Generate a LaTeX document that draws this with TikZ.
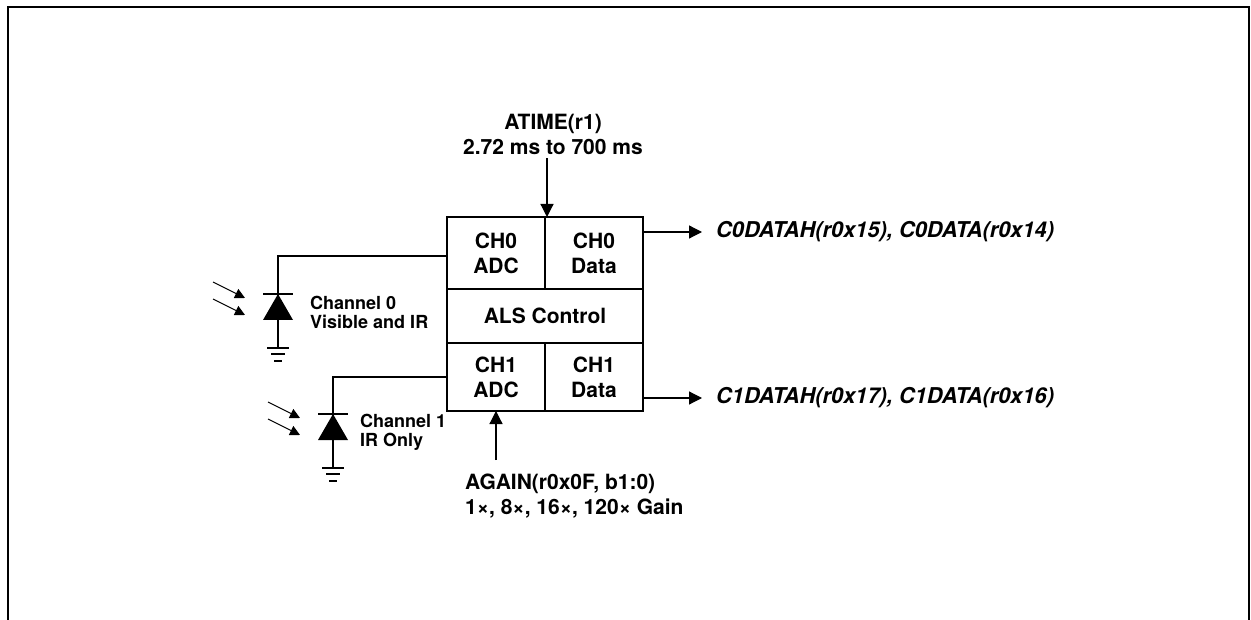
\documentclass[tikz,border=0pt]{standalone}
\usepackage{fontspec}
\setmainfont{TeX Gyre Heros}
\usetikzlibrary{arrows.meta, positioning}

\begin{document}
\begin{tikzpicture}[x=1pt, y=-1pt]
\tikzstyle{cell}=[rectangle, draw=black, line width=2pt, outer sep=0pt, inner sep=0pt, align=center, minimum width=98pt, minimum height=72pt, font=\bfseries\fontsize{21}{25}\selectfont]
\tikzstyle{lbl}=[inner sep=0pt, font=\bfseries\fontsize{21}{25}\selectfont]
\tikzstyle{chan}=[inner sep=0pt, align=left, font=\bfseries\fontsize{18}{19}\selectfont]
\tikzstyle{outlbl}=[inner sep=0pt, font=\bfseries\itshape\fontsize{21.8}{25}\selectfont]
\tikzstyle{connect}=[-{Triangle[length=13pt, width=13pt]}, line width=1.2pt]
\tikzstyle{wire}=[line width=1.2pt]
\tikzstyle{ray}=[-{Triangle[length=10pt, width=10pt]}, line width=1pt]
    \useasboundingbox (0,0) rectangle (1251,620);
    \draw[line width=2.5pt] (8,620) -- (8,7) -- (1249,7) -- (1249,620);
    % ALS block
    \node[cell] (ch0adc) at (496,253) {CH0\\ADC};
    \node[cell] (ch0data) [right=0pt of ch0adc] {CH0\\Data};
    \node[cell, minimum width=196pt, minimum height=54pt] (als) [below=0pt of ch0adc.south east] {ALS Control};
    \node[cell, minimum height=68pt, anchor=north west] (ch1adc) at (als.south west) {CH1\\ADC};
    \node[cell, minimum height=68pt] (ch1data) [right=0pt of ch1adc] {CH1\\Data};
    % photodiodes
    \coordinate (d0) at (278,294);
    \coordinate (d1) at (333,414);
    \foreach \d in {d0, d1} {
        \begin{scope}[shift={(\d)}]
            \fill (0,0) -- (-15,26) -- (15,26) -- cycle;
            \draw[wire] (-15,0) -- (15,0) (0,0) -- (0,54);
            \draw[wire] (-11,54) -- (11,54) (-7,60) -- (7,60) (-4,67) -- (4,67);
            \draw[ray] (-65,-12) -- (-33,4);
            \draw[ray] (-65,5) -- (-33,21);
        \end{scope}
    }
    \draw[wire] ([yshift=-3pt]ch0adc.west) -| (d0);
    \draw[wire] (ch1adc.west) -| (d1);
    \node[chan, anchor=west] (c0txt) at (310,312) {Channel 0\\Visible and IR};
    \node[chan, anchor=west] (c1txt) at (360,432) {Channel 1\\IR Only};
    % timing and gain
    \node[lbl, align=center] (atime) at (553,134) {ATIME(r1)\\2.72 ms to 700 ms};
    \draw[connect, shorten <=4pt] ([xshift=2pt]atime.south -| ch0adc.north east) -- ([xshift=2pt]ch0adc.north east);
    \node[lbl, align=left, anchor=north west] (again) at (465,474) {AGAIN(r0x0F, b1:0)\\1×, 8×, 16×, 120× Gain};
    \draw[connect] ([yshift=14pt]again.north -| ch1adc.south) -- (ch1adc.south);
    % data registers
    \node[outlbl, anchor=west] (out0) at (716,232) {C0DATAH(r0x15), C0DATA(r0x14)};
    \node[outlbl, anchor=west] (out1) at (716,398) {C1DATAH(r0x17), C1DATA(r0x16)};
    \draw[connect] (ch0data.east |- out0.west) -- ([xshift=-14pt]out0.west);
    \draw[connect] (ch1data.east |- out1.west) -- ([xshift=-14pt]out1.west);
\end{tikzpicture}
\end{document}
